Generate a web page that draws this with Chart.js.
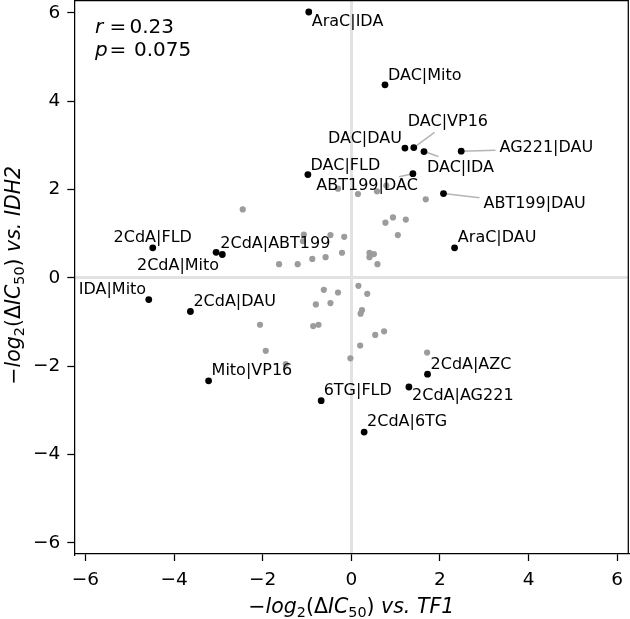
<!DOCTYPE html>
<html>
<head>
<meta charset="utf-8">
<script src="https://cdn.jsdelivr.net/npm/chart.js@4.4.1/dist/chart.umd.min.js"></script>
<style>
html,body{margin:0;padding:0;background:#fff;}
#wrap{width:630px;height:619px;}
</style>
</head>
<body>
<div id="wrap"><canvas id="c" width="630" height="619"></canvas></div>
<script>
// ---------- DATA ----------
const labelNames = ["AraC|IDA","DAC|Mito","DAC|VP16","DAC|DAU","DAC|IDA","AG221|DAU","DAC|FLD","ABT199|DAC","ABT199|DAU","AraC|DAU",
  "2CdA|FLD","2CdA|Mito","2CdA|ABT199","IDA|Mito","2CdA|DAU","Mito|VP16","6TG|FLD","2CdA|AZC","2CdA|AG221","2CdA|6TG"];
const labelX = [-0.96,0.76,1.41,1.21,1.64,2.48,-0.98,1.39,2.08,2.33,
  -4.48,-3.05,-2.91,-4.57,-3.63,-3.22,-0.68,1.72,1.30,0.29];
const labelY = [6.02,4.37,2.95,2.94,2.86,2.87,2.34,2.36,1.91,0.68,
  0.68,0.58,0.53,-0.49,-0.76,-2.33,-2.78,-2.18,-2.47,-3.49];

const otherX = [-0.30,0.15,0.58,0.79,1.68,-2.45,0.77,0.94,1.23,1.05,
  -1.07,-1.09,-0.47,-0.16,-0.21,-0.58,-0.88,-1.21,-1.63,0.41,
  0.51,0.41,0.59,0.16,0.36,-0.62,-0.30,-0.80,-0.47,0.24,
  0.21,-2.06,-0.86,-0.74,0.54,0.74,0.20,-1.93,-0.02,-1.48,1.71];
const otherY = [2.02,1.90,1.96,2.09,1.78,1.55,1.25,1.37,1.32,0.97,
  0.98,0.83,0.97,0.93,0.57,0.47,0.43,0.31,0.31,0.57,
  0.54,0.47,0.31,-0.18,-0.36,-0.27,-0.33,-0.60,-0.57,-0.73,
  -0.81,-1.06,-1.09,-1.06,-1.29,-1.21,-1.53,-1.65,-1.82,-1.95,-1.69];

const xTickValues = [-6,-4,-2,0,2,4,6];
const yTickValues = [-6,-4,-2,0,2,4,6];
const statR = "0.23";
const statP = "0.075";
const xTitleTarget = "TF1";
const yTitleTarget = "IDH2";

// ---------- LABEL LAYOUT (pixel offsets from each point) ----------
// [dx, dy(baseline), align, leaderDx, leaderDy]
const labelLayout = [
  [3,14.3,'left'],[3,-5.3,'left'],[-6,-22,'left',20.7,-15.3],[-3,-4.7,'right'],[3,20,'left',14.4,5],
  [38.3,1,'left',34.3,-1],[2.7,-5,'left'],[-96.6,16.4,'left',-14,3],[40,14.3,'left',36,4.3],[3.3,-5.6,'left'],
  [0,-5.6,'center'],[3,17.3,'right'],[-2,-6.7,'left'],[-2.6,-5.3,'right'],[3,-5.6,'left'],
  [3,-5.7,'left'],[2.5,-5.6,'left'],[3,-5.7,'left'],[3.2,13.3,'left'],[2.9,-6.3,'left']
];

const FONT = '"DejaVu Sans", sans-serif';
const minusFmt = v => (v < 0 ? '\u2212' + Math.abs(v) : String(v));

// rich axis title: -log_2(ΔIC_50) vs. <target>
function titlePieces(target) {
  return [
    {t: '\u2212', st: ''}, {t: 'log', st: 'italic '}, {t: '2', st: '', sub: true},
    {t: '(\u0394', st: ''}, {t: 'IC', st: 'italic '}, {t: '50', st: '', sub: true},
    {t: ')', st: ''}, {t: ' vs. ', st: 'italic '}, {t: target, st: 'italic '}
  ];
}
function drawRich(ctx, pieces, cx, baseY, size) {
  const sub = size * 0.7;
  let total = 0;
  pieces.forEach(p => {
    ctx.font = p.st + (p.sub ? sub : size) + 'px ' + FONT;
    p.w = ctx.measureText(p.t).width;
    total += p.w;
  });
  let x = cx - total / 2;
  ctx.textAlign = 'left';
  ctx.textBaseline = 'alphabetic';
  pieces.forEach(p => {
    ctx.font = p.st + (p.sub ? sub : size) + 'px ' + FONT;
    ctx.fillText(p.t, x, baseY + (p.sub ? size * 0.2 : 0));
    x += p.w;
  });
}

const annotPlugin = {
  id: 'annot',
  beforeDatasetsDraw(chart) {
    const {ctx, scales:{x, y}} = chart;
    ctx.save();
    ctx.strokeStyle = '#b4b4b4';
    ctx.lineWidth = 1.5;
    labelLayout.forEach((L, i) => {
      if (L.length < 5) return;
      const px = x.getPixelForValue(labelX[i]);
      const py = y.getPixelForValue(labelY[i]);
      ctx.beginPath();
      ctx.moveTo(px + L[3], py + L[4]);
      ctx.lineTo(px, py);
      ctx.stroke();
    });
    ctx.restore();
  },
  afterDatasetsDraw(chart) {
    const {ctx, scales:{x, y}} = chart;
    ctx.save();
    ctx.fillStyle = '#000';
    ctx.font = '16px ' + FONT;
    ctx.textBaseline = 'alphabetic';
    labelNames.forEach((name, i) => {
      const L = labelLayout[i];
      const px = x.getPixelForValue(labelX[i]);
      const py = y.getPixelForValue(labelY[i]);
      ctx.textAlign = L[2];
      ctx.fillText(name, px + L[0], py + L[1]);
    });
    ctx.restore();
  },
  afterDraw(chart) {
    const {ctx, chartArea:a} = chart;
    ctx.save();
    ctx.strokeStyle = '#000';
    ctx.lineWidth = 1.25;
    ctx.beginPath();
    ctx.moveTo(a.left, a.top); ctx.lineTo(a.right, a.top); ctx.lineTo(a.right, a.bottom);
    ctx.stroke();
    // stats text
    ctx.fillStyle = '#000';
    ctx.textBaseline = 'alphabetic';
    ctx.textAlign = 'left';
    ctx.font = 'italic 20px ' + FONT;
    ctx.fillText('r', 95, 32.7);
    ctx.fillText('p', 95, 56);
    ctx.font = '20px ' + FONT;
    ctx.fillText('=', 109.5, 32.7);
    ctx.fillText(statR, 129.5, 32.7);
    ctx.fillText('=', 109.5, 56);
    ctx.fillText(statP, 134, 56);
    // axis titles
    const cx = (a.left + a.right) / 2;
    const cy = (a.top + a.bottom) / 2;
    drawRich(ctx, titlePieces(xTitleTarget), cx, 613, 20.5);
    ctx.save();
    ctx.translate(20, cy - 2);
    ctx.rotate(-Math.PI / 2);
    drawRich(ctx, titlePieces(yTitleTarget), 0, 0, 20.5);
    ctx.restore();
    ctx.restore();
  }
};

const zeroColor = '#e2e2e2';
const gridCfg = {
  drawOnChartArea: true,
  color: c => (c.tick && c.tick.value === 0 ? zeroColor : 'rgba(0,0,0,0)'),
  lineWidth: 3,
  drawTicks: true,
  tickLength: 7,
  tickColor: '#000',
  tickWidth: 1.25
};

new Chart(document.getElementById('c'), {
  type: 'scatter',
  data: {
    datasets: [
      {
        label: 'other',
        data: otherX.map((v, i) => ({x: v, y: otherY[i]})),
        backgroundColor: '#9c9c9c',
        borderWidth: 0,
        pointRadius: 3.1
      },
      {
        label: 'labelled',
        data: labelX.map((v, i) => ({x: v, y: labelY[i]})),
        backgroundColor: '#000',
        borderWidth: 0,
        pointRadius: 3.4
      }
    ]
  },
  options: {
    responsive: false,
    animation: false,
    devicePixelRatio: 1,
    layout: {autoPadding: false, padding: {top: 0.5, right: 1.7, left: 0, bottom: 0}},
    plugins: {legend: {display: false}, tooltip: {enabled: false}},
    scales: {
      x: {
        type: 'linear', min: -6.25, max: 6.25,
        afterBuildTicks: s => { s.ticks = xTickValues.map(v => ({value: v})); },
        afterFit: s => { s.height = 65; s.paddingLeft = 0; s.paddingRight = 0; s.paddingTop = 0; s.paddingBottom = 0; },
        ticks: {callback: minusFmt, font: {family: FONT, size: 18.5}, color: '#000', padding: 8, maxRotation: 0, autoSkip: false},
        grid: gridCfg,
        border: {display: true, color: '#000', width: 1.25},
        title: {display: false}
      },
      y: {
        type: 'linear', min: -6.25, max: 6.28,
        afterBuildTicks: s => { s.ticks = yTickValues.map(v => ({value: v})); },
        afterFit: s => { s.width = 74.3; s.paddingLeft = 0; s.paddingRight = 0; s.paddingTop = 0; s.paddingBottom = 0; },
        ticks: {callback: minusFmt, font: {family: FONT, size: 18.5}, color: '#000', padding: 7, autoSkip: false},
        grid: gridCfg,
        border: {display: true, color: '#000', width: 1.25},
        title: {display: false}
      }
    }
  },
  plugins: [annotPlugin]
});
</script>
</body>
</html>
